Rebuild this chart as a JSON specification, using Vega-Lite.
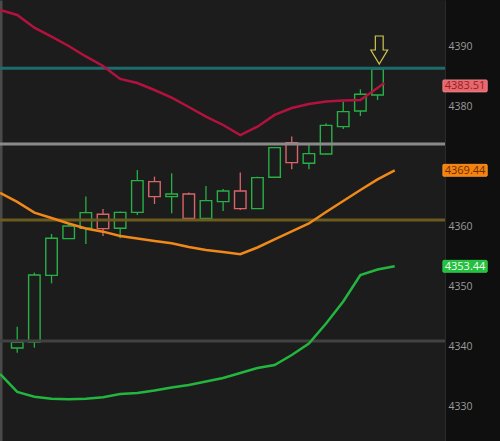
{
  "$schema": "https://vega.github.io/schema/vega-lite/v6.json",
  "width": 445,
  "height": 441,
  "autosize": {"type": "none"},
  "padding": {"left": 0, "top": 0, "right": 55, "bottom": 0},
  "background": "#0f0f0f",
  "config": {"view": {"fill": "#1c1c1c", "stroke": null}, "font": "Open Sans"},
  "datasets": {
    "candles": [
      {"i": 0, "o": 4339.83, "h": 4343.38, "l": 4339.05, "c": 4340.78},
      {"i": 1, "o": 4340.83, "h": 4352.39, "l": 4339.89, "c": 4352.0},
      {"i": 2, "o": 4351.94, "h": 4358.83, "l": 4350.61, "c": 4358.11},
      {"i": 3, "o": 4358.06, "h": 4360.61, "l": 4358.06, "c": 4360.17},
      {"i": 4, "o": 4359.78, "h": 4365.06, "l": 4357.17, "c": 4362.39},
      {"i": 5, "o": 4362.11, "h": 4363.0, "l": 4358.5, "c": 4359.72},
      {"i": 6, "o": 4359.78, "h": 4362.6, "l": 4358.11, "c": 4362.44},
      {"i": 7, "o": 4362.44, "h": 4369.5, "l": 4362.0, "c": 4367.72},
      {"i": 8, "o": 4367.56, "h": 4368.39, "l": 4363.83, "c": 4365.06},
      {"i": 9, "o": 4365.06, "h": 4368.94, "l": 4362.28, "c": 4365.5},
      {"i": 10, "o": 4365.5, "h": 4365.75, "l": 4361.44, "c": 4361.44},
      {"i": 11, "o": 4361.44, "h": 4366.83, "l": 4361.4, "c": 4364.39},
      {"i": 12, "o": 4364.22, "h": 4366.33, "l": 4362.67, "c": 4366.0},
      {"i": 13, "o": 4366.0, "h": 4369.06, "l": 4362.83, "c": 4363.06},
      {"i": 14, "o": 4363.06, "h": 4368.39, "l": 4363.0, "c": 4368.22},
      {"i": 15, "o": 4368.28, "h": 4373.3, "l": 4368.2, "c": 4373.22},
      {"i": 16, "o": 4374.06, "h": 4375.06, "l": 4369.61, "c": 4370.72},
      {"i": 17, "o": 4370.61, "h": 4373.83, "l": 4369.61, "c": 4372.22},
      {"i": 18, "o": 4372.17, "h": 4377.28, "l": 4372.1, "c": 4376.94},
      {"i": 19, "o": 4376.72, "h": 4380.89, "l": 4376.33, "c": 4379.22},
      {"i": 20, "o": 4379.33, "h": 4382.94, "l": 4378.5, "c": 4382.11},
      {"i": 21, "o": 4382.0, "h": 4386.4, "l": 4381.17, "c": 4386.33}
    ],
    "bands": [
      {"s": "upper", "i": -1, "v": 4396.17}, {"s": "upper", "i": 0, "v": 4395.33}, {"s": "upper", "i": 1, "v": 4393.22},
      {"s": "upper", "i": 2, "v": 4391.72}, {"s": "upper", "i": 3, "v": 4390.17}, {"s": "upper", "i": 4, "v": 4388.42},
      {"s": "upper", "i": 5, "v": 4386.83}, {"s": "upper", "i": 6, "v": 4384.67}, {"s": "upper", "i": 7, "v": 4384.0},
      {"s": "upper", "i": 8, "v": 4382.83}, {"s": "upper", "i": 9, "v": 4381.55}, {"s": "upper", "i": 10, "v": 4380.0},
      {"s": "upper", "i": 11, "v": 4378.39}, {"s": "upper", "i": 12, "v": 4377.0}, {"s": "upper", "i": 13, "v": 4375.33},
      {"s": "upper", "i": 14, "v": 4376.72}, {"s": "upper", "i": 15, "v": 4378.67}, {"s": "upper", "i": 16, "v": 4379.83},
      {"s": "upper", "i": 17, "v": 4380.5}, {"s": "upper", "i": 18, "v": 4380.92}, {"s": "upper", "i": 19, "v": 4381.08},
      {"s": "upper", "i": 20, "v": 4381.17}, {"s": "upper", "i": 21.4, "v": 4384.0},
      {"s": "middle", "i": -1, "v": 4365.67}, {"s": "middle", "i": 0, "v": 4364.17}, {"s": "middle", "i": 1, "v": 4362.39},
      {"s": "middle", "i": 2, "v": 4361.5}, {"s": "middle", "i": 3, "v": 4360.58}, {"s": "middle", "i": 4, "v": 4359.75},
      {"s": "middle", "i": 5, "v": 4359.22}, {"s": "middle", "i": 6, "v": 4358.5}, {"s": "middle", "i": 7, "v": 4358.08},
      {"s": "middle", "i": 8, "v": 4357.67}, {"s": "middle", "i": 9, "v": 4357.28}, {"s": "middle", "i": 10, "v": 4356.67},
      {"s": "middle", "i": 11, "v": 4356.17}, {"s": "middle", "i": 12, "v": 4355.83}, {"s": "middle", "i": 13, "v": 4355.45},
      {"s": "middle", "i": 14, "v": 4356.58}, {"s": "middle", "i": 15, "v": 4357.92}, {"s": "middle", "i": 16, "v": 4359.25},
      {"s": "middle", "i": 17, "v": 4360.58}, {"s": "middle", "i": 18, "v": 4362.5}, {"s": "middle", "i": 19, "v": 4364.33},
      {"s": "middle", "i": 20, "v": 4366.17}, {"s": "middle", "i": 21, "v": 4367.92}, {"s": "middle", "i": 22, "v": 4369.44},
      {"s": "lower", "i": -1, "v": 4335.5}, {"s": "lower", "i": 0, "v": 4332.5}, {"s": "lower", "i": 1, "v": 4331.72},
      {"s": "lower", "i": 2, "v": 4331.37}, {"s": "lower", "i": 3, "v": 4331.3}, {"s": "lower", "i": 4, "v": 4331.38},
      {"s": "lower", "i": 5, "v": 4331.62}, {"s": "lower", "i": 6, "v": 4332.17}, {"s": "lower", "i": 7, "v": 4332.33},
      {"s": "lower", "i": 8, "v": 4332.75}, {"s": "lower", "i": 9, "v": 4333.25}, {"s": "lower", "i": 10, "v": 4333.67},
      {"s": "lower", "i": 11, "v": 4334.25}, {"s": "lower", "i": 12, "v": 4334.83}, {"s": "lower", "i": 13, "v": 4335.67},
      {"s": "lower", "i": 14, "v": 4336.5}, {"s": "lower", "i": 15, "v": 4337.0}, {"s": "lower", "i": 16, "v": 4338.67},
      {"s": "lower", "i": 17, "v": 4340.58}, {"s": "lower", "i": 18, "v": 4343.92}, {"s": "lower", "i": 19, "v": 4347.58},
      {"s": "lower", "i": 20, "v": 4352.0}, {"s": "lower", "i": 21, "v": 4352.92}, {"s": "lower", "i": 22, "v": 4353.44}
    ],
    "levels": [
      {"name": "teal", "v": 4386.45},
      {"name": "grey", "v": 4373.83},
      {"name": "olive", "v": 4361.17},
      {"name": "dark", "v": 4341.0}
    ],
    "badges": [
      {"s": "upper", "v": 4383.51, "label": "4383.51"},
      {"s": "middle", "v": 4369.44, "label": "4369.44"},
      {"s": "lower", "v": 4353.44, "label": "4353.44"}
    ],
    "marker": [{"i": 21.1, "v": 4389.5}]
  },
  "layer": [
    {
      "data": {"name": "candles"},
      "mark": {"type": "rule", "strokeWidth": 1.3},
      "encoding": {
        "x": {"field": "i", "type": "quantitative", "scale": {"domain": [-0.712, 24.64], "nice": false, "zero": false}, "axis": null},
        "y": {"field": "l", "type": "quantitative", "scale": {"domain": [4324.33, 4397.83], "nice": false, "zero": false},
          "axis": {"orient": "right", "title": null, "values": [4330, 4340, 4350, 4360, 4380, 4390], "format": "d", "grid": false, "ticks": false,
            "domain": true, "domainColor": "#2a2a2a", "domainWidth": 1, "labelColor": "#9a9a9a", "labelFontSize": 10.5,
            "labelPadding": 3, "labelFont": "Open Sans"}},
        "y2": {"field": "h"},
        "stroke": {"condition": {"test": "datum.c >= datum.o", "value": "#27b046"}, "value": "#d9646a"}
      }
    },
    {
      "data": {"name": "candles"},
      "mark": {"type": "bar", "width": 11.5, "fill": "#1c1c1c", "strokeWidth": 1.4},
      "encoding": {
        "x": {"field": "i", "type": "quantitative"},
        "y": {"field": "o", "type": "quantitative", "axis": null},
        "y2": {"field": "c"},
        "stroke": {"condition": {"test": "datum.c >= datum.o", "value": "#27b046"}, "value": "#d9646a"}
      }
    },
    {
      "data": {"name": "levels"},
      "mark": {"type": "rule", "strokeWidth": 3},
      "encoding": {
        "y": {"field": "v", "type": "quantitative",
          "axis": {"orient": "left", "title": null, "labels": false, "ticks": false, "grid": false, "domain": true, "domainColor": "#4a4a4a", "domainWidth": 4}},
        "stroke": {"field": "name", "type": "nominal", "legend": null,
          "scale": {"domain": ["teal", "grey", "olive", "dark"], "range": ["#1d6b6b", "#8a8a8a", "#6b5b1f", "#414141"]}}
      }
    },
    {
      "data": {"name": "bands"},
      "mark": {"type": "line", "strokeWidth": 2.5, "clip": true},
      "encoding": {
        "x": {"field": "i", "type": "quantitative"},
        "y": {"field": "v", "type": "quantitative", "axis": null},
        "color": {"field": "s", "type": "nominal", "legend": null,
          "scale": {"domain": ["upper", "middle", "lower"], "range": ["#b3123f", "#f0891a", "#22b63e"]}}
      }
    },
    {
      "data": {"name": "marker"},
      "mark": {"type": "point", "filled": false, "size": 784, "strokeWidth": 1.2, "color": "#cfc64e",
        "shape": "M -0.28 -1 L 0.28 -1 L 0.28 0 L 0.6 0 L 0 1 L -0.6 0 L -0.28 0 Z", "opacity": 1},
      "encoding": {
        "x": {"field": "i", "type": "quantitative"},
        "y": {"field": "v", "type": "quantitative", "axis": null}
      }
    },
    {
      "data": {"name": "badges"},
      "mark": {"type": "point", "filled": true, "size": 576, "opacity": 1, "strokeWidth": 0.8,
        "shape": "M -1.75 -0.5 Q -1.85 -0.5 -1.85 -0.4 L -1.85 0.4 Q -1.85 0.5 -1.75 0.5 L 1.75 0.5 Q 1.85 0.5 1.85 0.4 L 1.85 -0.4 Q 1.85 -0.5 1.75 -0.5 Z"},
      "encoding": {
        "x": {"datum": 26.1, "type": "quantitative"},
        "y": {"field": "v", "type": "quantitative", "axis": null},
        "fill": {"condition": [{"test": "datum.s == 'upper'", "value": "#e8676c"}, {"test": "datum.s == 'middle'", "value": "#f5820f"}], "value": "#22c03e"},
        "stroke": {"condition": [{"test": "datum.s == 'upper'", "value": "#f08a8e"}, {"test": "datum.s == 'middle'", "value": "#ff9a30"}], "value": "#3ad456"}
      }
    },
    {
      "data": {"name": "badges"},
      "mark": {"type": "text", "fontSize": 11, "font": "Open Sans", "align": "center", "baseline": "middle", "dy": 0.5},
      "encoding": {
        "x": {"datum": 26.1, "type": "quantitative"},
        "y": {"field": "v", "type": "quantitative", "axis": null},
        "text": {"field": "label"},
        "fill": {"condition": [{"test": "datum.s == 'upper'", "value": "#8e1f27"}, {"test": "datum.s == 'middle'", "value": "#6b3000"}], "value": "#f2fff2"}
      }
    }
  ],
  "resolve": {"axis": {"y": "independent"}}
}
